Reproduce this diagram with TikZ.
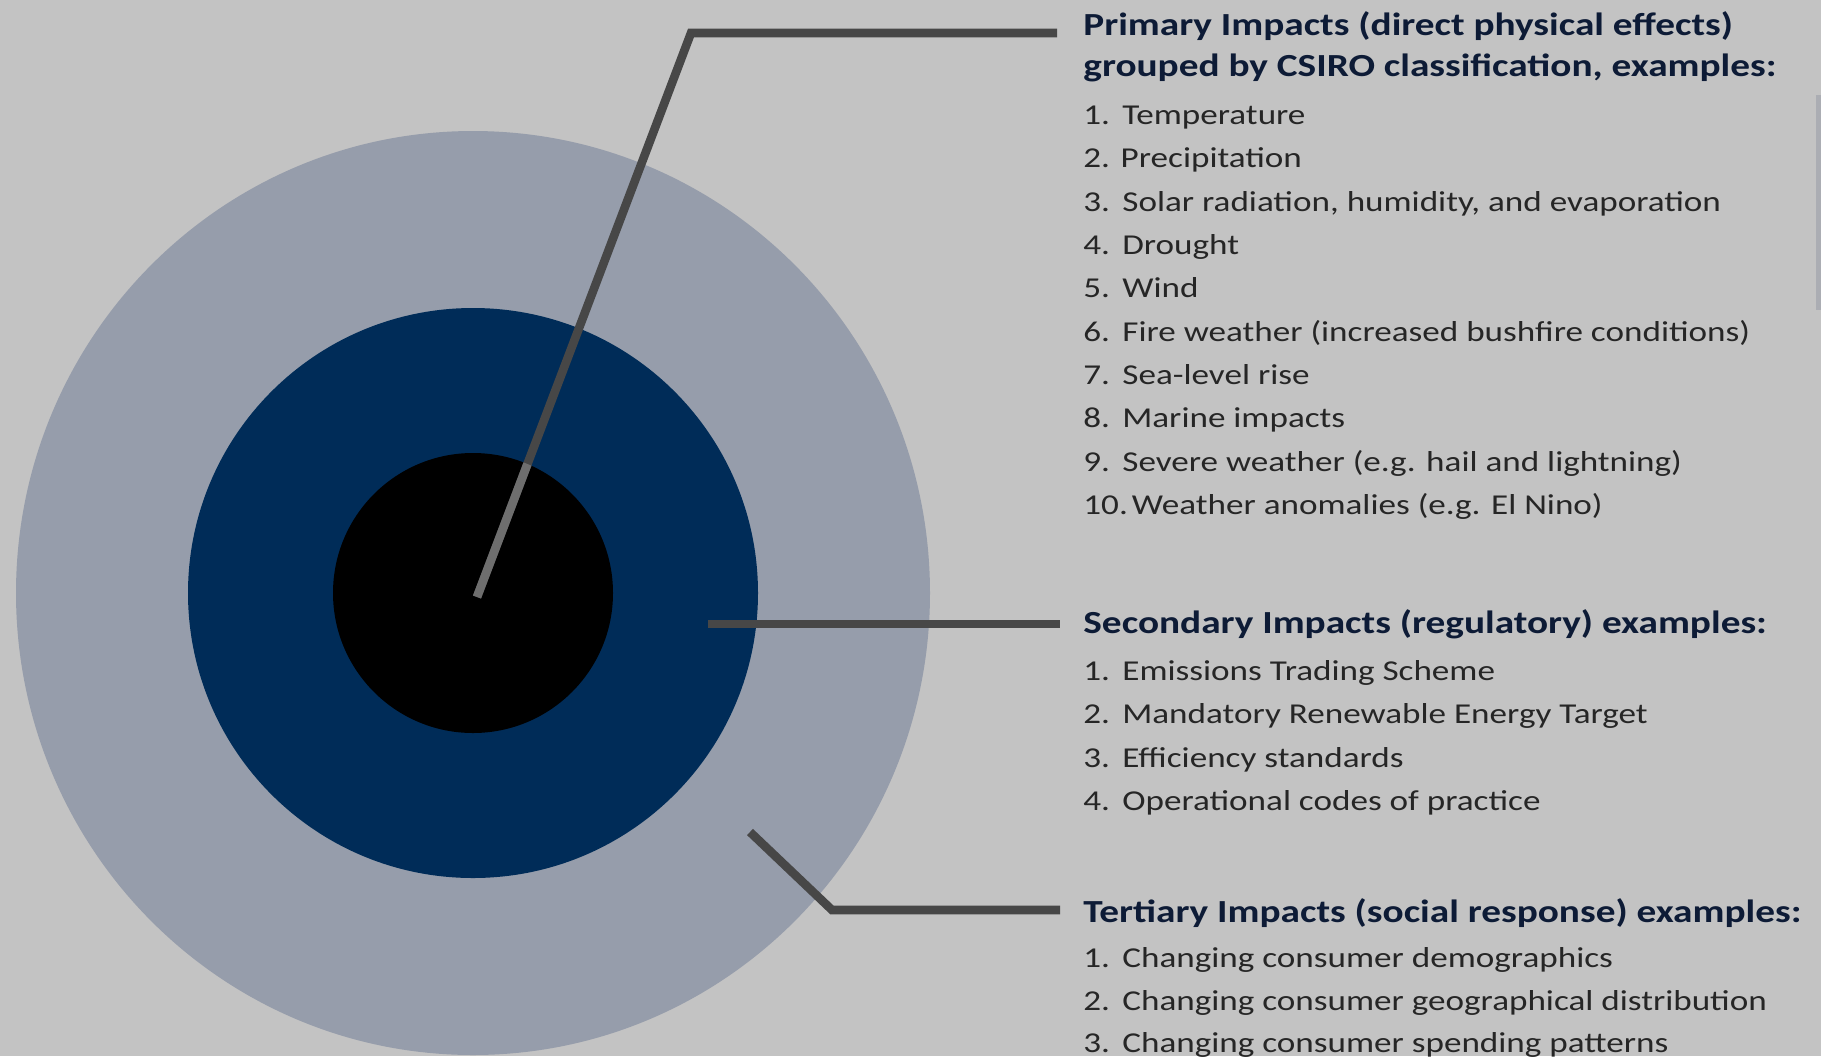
\documentclass[tikz,border=0pt]{standalone}
\usepackage{fontspec}
\setmainfont[FakeStretch=1.22]{Carlito}

\definecolor{bgcol}{HTML}{C3C3C3}
\definecolor{outercol}{HTML}{969DAB}
\definecolor{midcol}{HTML}{002C58}
\definecolor{leadcol}{HTML}{474747}
\definecolor{leadin}{HTML}{6E6E6E}
\definecolor{headcol}{HTML}{0D1B36}
\definecolor{itemcol}{HTML}{262626}
\definecolor{edgecol}{HTML}{ABADB3}

\newcommand{\itemno}[1]{\makebox[19.5pt][l]{#1}}

\begin{document}
\begin{tikzpicture}[x=0.5pt, y=-0.5pt,
  head/.style={anchor=base west, inner sep=0pt, text=headcol, font=\bfseries\fontsize{16.1}{18}\selectfont},
  entry/.style={anchor=base west, inner sep=0pt, text=itemcol, font=\fontsize{14.4}{18}\selectfont},
  leader/.style={draw=leadcol, line width=4.3pt}]

% Define frame
\fill[bgcol] (0,0) rectangle (1821,1056);
\useasboundingbox (0,0) rectangle (1821,1056);
\fill[edgecol] (1816,95) rectangle (1821,310);

% Draw the three rings
\coordinate (centre) at (473,593);
\fill[outercol] (centre) ellipse [x radius=457, y radius=462];
\fill[midcol] (centre) circle [radius=285];
\fill[black] (centre) circle [radius=140];

% Leader line end points
\coordinate (pfoot) at (477,597);
\coordinate (pbend) at (691,33);
\coordinate (pend) at (1057,33);
\coordinate (sfoot) at (708,624);
\coordinate (send) at (1060,624);
\coordinate (tfoot) at (750,832);
\coordinate (tbend) at (832,910);
\coordinate (tend) at (1060,910);

% Draw leader lines
\draw[leader] (pfoot) -- (pbend) -- (pend);
\begin{scope}
\clip (centre) circle [radius=140];
\draw[leader, draw=leadin] (pfoot) -- (pbend);
\end{scope}
\draw[leader] (sfoot) -- (send);
\draw[leader] (tfoot) -- (tbend) -- (tend);

% Primary impacts
\node[head] (prim1) at (1083,35) {Primary Impacts (direct physical effects)};
\node[head] (prim2) at (1083,76) {grouped by CSIRO classification, examples:};
\node[entry] (p1) at (1083,124) {\itemno{1.}Temperature};
\node[entry] (p2) at (1083,167) {2. Precipitation};
\node[entry] (p3) at (1083,211) {\itemno{3.}Solar radiation, humidity, and evaporation};
\node[entry] (p4) at (1083,254) {\itemno{4.}Drought};
\node[entry] (p5) at (1083,297) {\itemno{5.}Wind};
\node[entry] (p6) at (1083,341) {\itemno{6.}Fire weather (increased bushfire conditions)};
\node[entry] (p7) at (1083,384) {\itemno{7.}Sea-level rise};
\node[entry] (p8) at (1083,427) {\itemno{8.}Marine impacts};
\node[entry] (p9) at (1083,471) {\itemno{9.}Severe weather (e.g. hail and lightning)};
\node[entry] (p10) at (1083,514) {10.\hspace{2pt}Weather anomalies (e.g. El Nino)};

% Secondary impacts
\node[head] (sec) at (1083,633) {Secondary Impacts (regulatory) examples:};
\node[entry] (s1) at (1083,680) {\itemno{1.}Emissions Trading Scheme};
\node[entry] (s2) at (1083,723) {\itemno{2.}Mandatory Renewable Energy Target};
\node[entry] (s3) at (1083,767) {\itemno{3.}Efficiency standards};
\node[entry] (s4) at (1083,810) {\itemno{4.}Operational codes of practice};

% Tertiary impacts
\node[head] (ter) at (1083,922) {Tertiary Impacts (social response) examples:};
\node[entry] (t1) at (1083,967) {\itemno{1.}Changing consumer demographics};
\node[entry] (t2) at (1083,1010) {\itemno{2.}Changing consumer geographical distribution};
\node[entry] (t3) at (1083,1052) {\itemno{3.}Changing consumer spending patterns};
\end{tikzpicture}
\end{document}
